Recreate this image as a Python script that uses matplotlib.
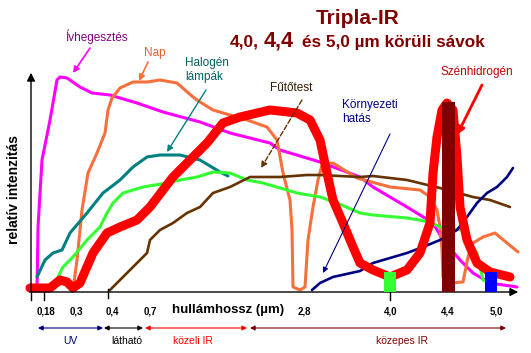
import matplotlib
matplotlib.use("Agg")
import matplotlib.pyplot as plt
import numpy as np

plt.rcParams['font.family'] = ['Liberation Sans', 'DejaVu Sans']

# x = position along the wavelength axis, y = relative intensity
ivheg_x = [37, 38, 42, 50, 57, 60, 67, 80, 92, 110, 120, 137, 163, 200, 230, 270, 280, 320, 360, 373, 407, 433, 443, 460, 473, 490, 517]
ivheg_y = [2, 65, 132, 172, 212, 215, 214, 205, 199, 197, 194, 189, 180, 170, 159, 149, 142, 130, 115, 105, 85, 69, 52, 32, 19, 9, 5]

nap_x = [73, 77, 82, 88, 97, 105, 108, 112, 120, 133, 147, 160, 177, 193, 200, 213, 247, 267, 277, 283, 290, 292, 293, 300, 305, 308, 313, 318, 322, 333, 357, 390, 420, 430, 437, 440, 442, 443, 450, 463, 468, 473, 483, 495, 507, 518]
nap_y = [2, 32, 82, 119, 139, 159, 182, 194, 204, 210, 210, 212, 209, 195, 190, 182, 172, 165, 152, 119, 92, 62, 5, 2, 5, 52, 85, 112, 127, 129, 114, 105, 102, 95, 82, 65, 42, 15, 9, 10, 35, 49, 55, 59, 49, 40]

halogen_x = [37, 45, 53, 62, 70, 87, 103, 120, 133, 147, 160, 180, 200, 220, 228]
halogen_y = [15, 32, 39, 42, 59, 79, 99, 112, 125, 135, 137, 137, 132, 120, 116]

zold_x = [58, 63, 73, 87, 100, 107, 113, 123, 143, 167, 180, 197, 213, 230, 247, 263, 280, 297, 320, 337, 360, 373, 407, 430, 440, 463, 470, 477, 480, 483, 493]
zold_y = [15, 25, 35, 52, 65, 79, 89, 99, 105, 109, 112, 115, 120, 119, 112, 109, 104, 99, 95, 89, 79, 77, 74, 70, 65, 62, 49, 39, 25, 12, 9]

futotest_x = [110, 120, 133, 147, 150, 160, 173, 187, 200, 213, 230, 250, 280, 307, 320, 360, 373, 407, 440, 473, 490, 510]
futotest_y = [2, 12, 25, 39, 52, 62, 69, 79, 85, 99, 105, 115, 115, 117, 117, 115, 116, 112, 104, 95, 92, 85]

kornyezet_x = [312, 320, 333, 360, 373, 390, 407, 423, 440, 457, 467, 477, 487, 497, 507, 513]
kornyezet_y = [2, 9, 15, 21, 29, 34, 39, 45, 52, 62, 75, 89, 99, 105, 115, 124]

tripla_x = [30, 50, 60, 67, 73, 80, 93, 107, 120, 137, 150, 163, 173, 183, 193, 207, 223, 240, 270, 297, 310, 320, 327, 333, 343, 353, 360, 373, 390, 407, 420, 430, 433, 437, 442, 447, 453, 457, 460, 467, 477, 490, 510]
tripla_y = [4, 4, 12, 10, 4, 9, 39, 59, 65, 72, 85, 102, 115, 125, 135, 149, 169, 175, 182, 179, 172, 152, 119, 92, 69, 45, 29, 22, 15, 22, 39, 69, 119, 155, 182, 189, 182, 135, 85, 52, 29, 20, 15]

sav_x = [390, 448.5, 491]
sav_h = [20, 190, 20]
sav_colors = ['#33ff33', '#800000', '#0000ff']

tick_pos = [46, 76, 112, 150, 304, 391, 448, 496]
tick_labels = ['0,18', '0,3', '0,4', '0,7', '2,8', '4,0', '4,4', '5,0']

range_start = [38, 104, 145, 250]
range_end = [103, 143, 247, 506]
range_label_x = [70, 127, 193, 402]
range_labels = ['UV', 'látható', 'közeli IR', 'közepes IR']
range_colors = ['#000080', '#000000', '#ff0000', '#800000']

fig = plt.figure(figsize=(5.31, 3.53), dpi=100)
ax = fig.add_axes([0, 0, 1, 1])
ax.set_xlim(0, 531)
ax.set_ylim(-61, 292)
ax.axis('off')

kw = dict(solid_joinstyle='round', solid_capstyle='round')
ax.plot(ivheg_x, ivheg_y, color='#ff00ff', lw=2.2, **kw)
ax.plot(nap_x, nap_y, color='#f7703c', lw=2.2, **kw)
ax.plot(halogen_x, halogen_y, color='#008080', lw=2.2, **kw)
ax.plot(zold_x, zold_y, color='#33ff33', lw=2.2, **kw)
ax.plot(futotest_x, futotest_y, color='#663300', lw=1.9, **kw)
ax.plot(kornyezet_x, kornyezet_y, color='#000080', lw=1.9, **kw)
ax.plot(tripla_x, tripla_y, color='#ff0000', lw=6.5, **kw)
ax.bar(sav_x, sav_h, width=[12, 13, 12], color=sav_colors, zorder=5)

# axes with arrows
ax.annotate('', xy=(31, 222), xytext=(31, -2),
            arrowprops=dict(arrowstyle='-|>', color='black', lw=1, mutation_scale=12))
ax.annotate('', xy=(521, 0), xytext=(27, 0),
            arrowprops=dict(arrowstyle='-|>', color='black', lw=1, mutation_scale=12))
for t in [31, 44, 390]:
    ax.plot([t, t], [0, -8], color='black', lw=1)
ax.plot([108, 108], [3, -6], color='black', lw=1)

for p, lab in zip(tick_pos, tick_labels):
    ax.text(p, -19, lab, ha='center', va='center', fontsize=7, fontweight='bold')
ax.text(228, -18, 'hullámhossz (µm)', ha='center', va='center', fontsize=9.5, fontweight='bold')
ax.text(14, 102, 'relatív intenzitás', rotation=90, ha='center', va='center',
        fontsize=10, fontweight='bold')

for s, e, lx, lab, c in zip(range_start, range_end, range_label_x, range_labels, range_colors):
    ax.annotate('', xy=(e, -36), xytext=(s, -36),
                arrowprops=dict(arrowstyle='<|-|>', color=c, lw=0.8, mutation_scale=7,
                                shrinkA=0, shrinkB=0))
    ax.text(lx, -49, lab, ha='center', va='center', fontsize=7.5, color=c)

# title
ax.text(358, 274, 'Tripla-IR', ha='center', va='center', fontsize=15, fontweight='bold', color='#800000')
ax.text(230, 250, '4,0,', ha='left', va='center', fontsize=12.5, fontweight='bold', color='#800000')
ax.text(264, 251, '4,4', ha='left', va='center', fontsize=15.5, fontweight='bold', color='#800000')
ax.text(302, 250, 'és 5,0 µm körüli sávok', ha='left', va='center', fontsize=12.3, fontweight='bold', color='#800000')

# labels with arrows
def label(txt, xy, xytext, c, tc, ha='center', ls='-', lw=1.2, ms=9, tx=None):
    ax.annotate('', xy=xy, xytext=xytext,
                arrowprops=dict(arrowstyle='-|>', color=c, lw=lw, ls=ls, mutation_scale=ms,
                                shrinkA=0, shrinkB=0))
    ax.text(tx[0], tx[1], txt, ha=ha, va='center', fontsize=8.5, color=tc, linespacing=1.15)

label('Ívhegesztés', (73, 219), (90, 244), '#ff00ff', '#800080', tx=(96, 255))
label('Nap', (139, 211), (148, 230), '#f7703c', '#e06030', tx=(155, 239))
label('Halogén\nlámpák', (167, 140), (206, 202), '#008080', '#006060', ha='left', lw=1, tx=(185, 222))
label('Fűtőtest', (261, 124), (302, 192), '#663300', '#331a00', ls='--', lw=1, tx=(291, 204))
label('Környezeti\nhatás', (323, 19), (390, 158), '#000080', '#000080', ha='left', lw=0.8, ms=8, tx=(342, 180))
label('Szénhidrogén', (457, 157), (482, 207), '#ff0000', '#c00000', lw=2, ms=11, tx=(477, 220))

fig.savefig('out.png', dpi=100)
